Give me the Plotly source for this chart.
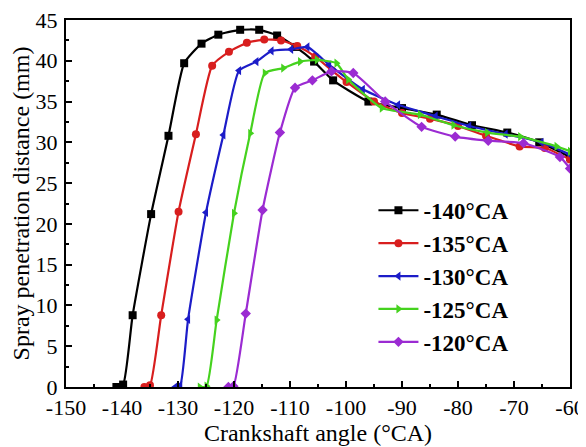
import plotly.graph_objects as go

series_names = ["-140°CA", "-135°CA", "-130°CA", "-125°CA", "-120°CA"]

x_140 = [-141.0, -139.8, -138.1, -134.8, -131.7, -128.9, -125.8, -122.8, -118.9, -115.5, -112.3, -109.0, -105.7, -102.3, -96.0, -90.0, -83.8, -77.5, -71.2, -65.5, -60.0]
y_140 = [0.0, 0.3, 8.8, 21.2, 30.8, 39.7, 42.1, 43.2, 43.8, 43.8, 43.1, 41.7, 39.9, 37.6, 35.0, 34.2, 33.4, 32.1, 31.2, 30.0, 28.2]

x_135 = [-136.0, -135.0, -133.0, -129.9, -126.8, -123.9, -120.9, -117.7, -114.6, -111.6, -108.7, -105.5, -102.5, -99.9, -95.0, -90.0, -85.0, -80.0, -75.0, -69.0, -64.5, -60.0]
y_135 = [0.0, 0.2, 8.8, 21.5, 31.0, 39.4, 41.1, 42.2, 42.6, 42.5, 41.8, 40.5, 38.8, 37.4, 35.0, 33.6, 32.9, 32.0, 30.8, 29.5, 29.3, 27.9]

x_130 = [-130.5, -129.6, -128.2, -125.0, -121.9, -119.1, -116.0, -113.3, -109.8, -106.9, -103.0, -97.0, -90.7, -84.0, -78.0, -71.5, -65.1, -60.0]
y_130 = [0.0, 0.2, 8.3, 21.4, 30.9, 38.8, 39.9, 41.2, 41.4, 41.7, 39.5, 36.5, 34.6, 33.2, 32.0, 31.0, 30.0, 28.5]

x_125 = [-126.1, -124.9, -123.1, -120.0, -117.1, -114.5, -111.2, -108.2, -105.2, -101.7, -99.6, -93.6, -86.8, -80.8, -74.8, -68.9, -62.4, -60.0]
y_125 = [0.0, 0.1, 8.2, 21.3, 31.1, 38.5, 39.1, 39.9, 40.1, 39.7, 37.7, 34.2, 33.4, 32.1, 31.2, 30.7, 29.5, 28.9]

x_120 = [-121.0, -120.1, -117.9, -114.9, -111.8, -109.1, -106.0, -102.6, -98.7, -93.0, -86.5, -80.5, -74.6, -68.3, -61.8, -60.0]
y_120 = [0.0, 0.1, 9.0, 21.7, 31.2, 36.7, 37.6, 38.7, 38.5, 35.0, 31.9, 30.7, 30.2, 29.9, 28.2, 26.8]

x_ticks = [-150, -140, -130, -120, -110, -100, -90, -80, -70, -60]
y_ticks = [0, 5, 10, 15, 20, 25, 30, 35, 40, 45]

colors = ["#000000", "#d81e1e", "#1c1cc8", "#45d21e", "#9b2bd2"]
symbols = ["square", "circle", "triangle-left", "triangle-right", "diamond"]

xs = [x_140, x_135, x_130, x_125, x_120]
ys = [y_140, y_135, y_130, y_125, y_120]

FONT = "Liberation Serif, Times New Roman, serif"

fig = go.Figure()
for name, x, y, c, s in zip(series_names, xs, ys, colors, symbols):
    fig.add_trace(go.Scatter(
        x=x, y=y, name=name, mode="lines+markers",
        line=dict(color=c, width=2.2, shape="spline", smoothing=0.5),
        marker=dict(color=c, symbol=s, size=8),
    ))

# page has an 8px body margin, so the figure is sized to fit the 586x447 window
fig.update_layout(
    width=578, height=439,
    margin=dict(l=58, r=16, t=12, b=60),
    paper_bgcolor="white", plot_bgcolor="white",
    font=dict(family=FONT, size=22, color="black"),
    showlegend=True,
    legend=dict(
        x=0.61, y=0.54, xanchor="left", yanchor="top",
        bgcolor="rgba(0,0,0,0)",
        font=dict(family=FONT, size=23, color="black", weight="bold"),
        itemwidth=40,
    ),
)
fig.update_xaxes(
    range=[-150, -60], tickvals=x_ticks, ticktext=[str(v) for v in x_ticks],
    showline=True, linecolor="black", linewidth=2, mirror=True,
    ticks="inside", ticklen=6, tickwidth=1.5, tickcolor="black",
    minor=dict(ticks="inside", ticklen=3, tickwidth=1.5, tickcolor="black", dtick=5),
    showgrid=False, zeroline=False, automargin=False,
    ticklabeloverflow="allow",
    title=dict(text="Crankshaft angle (°CA)", font=dict(size=24), standoff=0),
    tickfont=dict(size=22),
)
fig.update_yaxes(
    range=[0, 45], tickvals=y_ticks, ticktext=[str(v) for v in y_ticks],
    showline=True, linecolor="black", linewidth=2, mirror=True,
    ticks="inside", ticklen=6, tickwidth=1.5, tickcolor="black",
    minor=dict(ticks="inside", ticklen=3, tickwidth=1.5, tickcolor="black", dtick=2.5),
    showgrid=False, zeroline=False, automargin=False,
    ticklabeloverflow="allow",
    title=dict(text="Spray penetration distance (mm)", font=dict(size=24), standoff=0),
    tickfont=dict(size=22),
    ticklabelstandoff=2,
)

fig.write_html("out.html")
